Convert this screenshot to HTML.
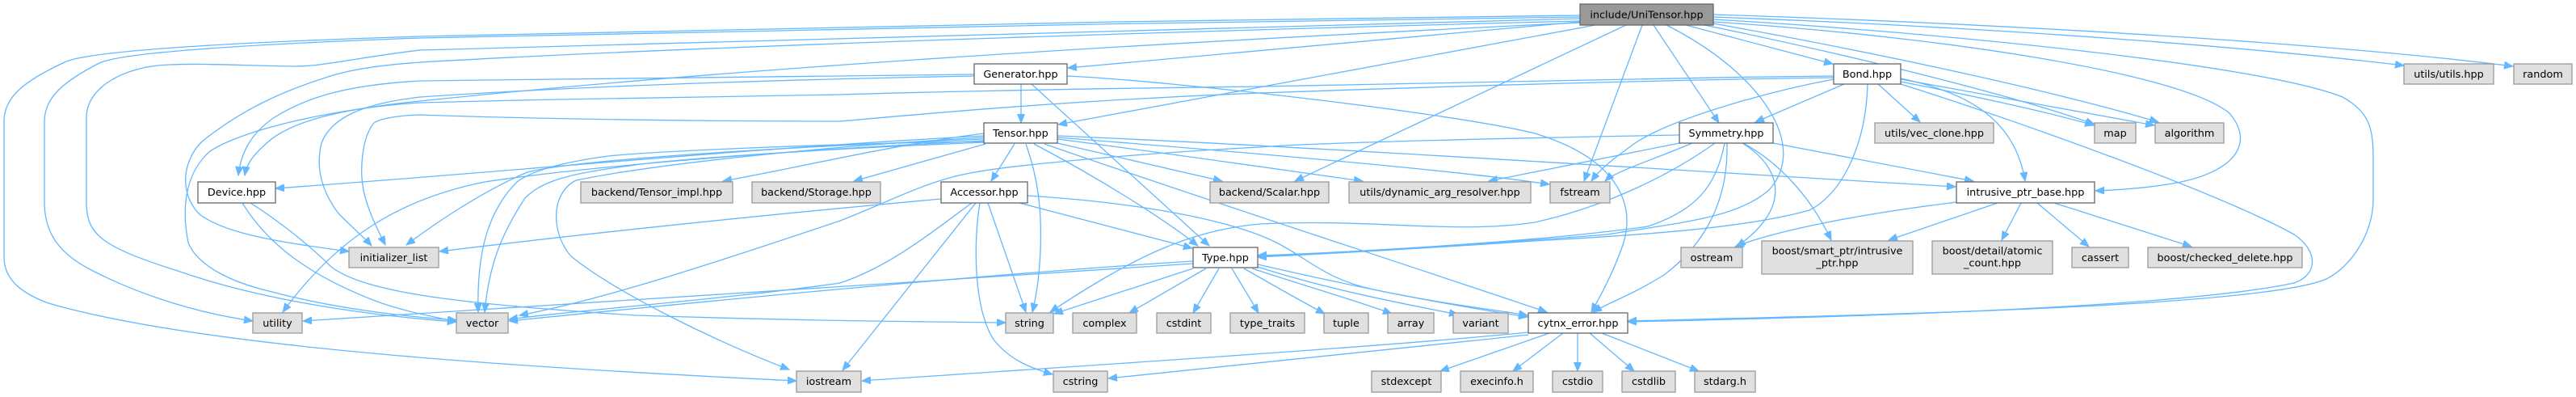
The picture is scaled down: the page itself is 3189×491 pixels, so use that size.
<!DOCTYPE html>
<html><head><meta charset="utf-8">
<style>
html,body{margin:0;padding:0;background:#fff;}
svg{display:block;}
text{font-family:"DejaVu Sans","Liberation Sans",sans-serif;font-size:12.8px;fill:#000;text-anchor:middle;}
.e{fill:none;stroke:#63b8ff;stroke-width:1.3;marker-end:url(#ah);}
.g{fill:#e0e0e0;stroke:#999999;stroke-width:1.3;}
.w{fill:#ffffff;stroke:#666666;stroke-width:1.3;}
.r{fill:#999999;stroke:#666666;stroke-width:1.3;}
</style></head>
<body>
<svg width="3189" height="491" viewBox="0 0 3189 491" xmlns="http://www.w3.org/2000/svg">
<defs>
<marker id="ah" markerUnits="userSpaceOnUse" markerWidth="13" markerHeight="11" refX="11" refY="4.5" orient="auto">
<path d="M0,0 L11,4.5 L0,9 z" fill="#63b8ff" stroke="#63b8ff" stroke-width="1"/>
</marker>
</defs>

<!-- UniTensor edges -->
<path class="e" d="M1956,19 C1500,24 800,36 520,45 C300,52 110,62 80,77 C30,100 5,120 5,150 L5,318 C5,345 25,362 60,375 C250,430 650,455 986,471"/>
<path class="e" d="M1956,21 C1500,26 800,40 520,47 C300,55 150,65 123,78 C80,100 55,120 55,150 L55,250 C55,290 75,315 115,335 C180,368 250,388 313,397"/>
<path class="e" d="M1956,23 C1600,30 1100,45 520,62 C450,70 400,82 367,82 C320,82 260,78 210,80 C150,82 107,110 107,145 L107,250 C107,290 125,305 220,335 C320,370 450,390 565,398"/>
<path class="e" d="M1956,26 C1600,35 900,55 520,77 C450,82 420,90 400,97 C350,113 300,135 250,175 C225,200 222,240 247,265 C280,290 350,300 432,311"/>
<path class="e" d="M1956,28 C1600,45 1000,75 520,125 C420,135 360,150 330,177 C310,195 305,205 303,217"/>
<path class="e" d="M1956,27 L1322,84"/>
<path class="e" d="M1975,31 L1310,154"/>
<path class="e" d="M2013,31 L1603,224"/>
<path class="e" d="M2033,31 L1961,224"/>
<path class="e" d="M2047,31 L2128,152"/>
<path class="e" d="M2063,31 C2180,90 2240,180 2190,235 C2150,270 2080,275 1990,290 C1800,305 1600,315 1557,317"/>
<path class="e" d="M2087,31 L2269,79"/>
<path class="e" d="M2121,18 C2500,30 2900,55 3111,82"/>
<path class="e" d="M2121,21 C2500,35 2800,60 2976,81"/>
<path class="e" d="M2121,24 C2400,40 2800,80 2900,120 C2935,140 2938,160 2938,200 L2938,245 C2938,290 2910,330 2880,345 C2800,380 2300,390 2015,397"/>
<path class="e" d="M2121,27 C2400,45 2700,90 2760,140 C2790,175 2770,210 2700,225 C2660,233 2620,235 2594,236"/>
<path class="e" d="M2110,31 C2300,70 2500,120 2593,154"/>
<path class="e" d="M2121,29 C2350,70 2550,115 2672,151"/>

<!-- Generator edges -->
<path class="e" d="M1264,104 L1264,152"/>
<path class="e" d="M1277,104 L1497,304"/>
<path class="e" d="M1321,94 C1450,100 1800,140 1900,165 C2000,195 2025,250 2010,300 C2000,330 1985,360 1970,386"/>
<path class="e" d="M1206,92 C900,95 700,98 520,100 C430,105 380,120 340,145 C310,165 298,190 295,217"/>
<path class="e" d="M1206,94 C900,100 700,108 520,120 C450,128 410,145 398,177 C390,210 400,240 420,265 C440,285 452,295 460,304"/>

<!-- Bond edges -->
<path class="e" d="M2283,104 L2173,151"/>
<path class="e" d="M2325,104 L2377,151"/>
<path class="e" d="M2353,97 C2440,115 2495,150 2507,224"/>
<path class="e" d="M2353,101 C2450,120 2540,140 2592,155"/>
<path class="e" d="M2353,98 C2450,115 2580,140 2667,155"/>
<path class="e" d="M2353,104 C2500,150 2750,240 2840,290 C2870,310 2870,340 2840,350 C2700,380 2300,392 2015,398"/>
<path class="e" d="M2270,98 C2180,115 2060,150 2020,180 C1995,198 1980,210 1970,224"/>
<path class="e" d="M2312,104 C2310,180 2280,240 2240,260 C2150,285 2000,292 1900,298 C1750,308 1620,315 1557,318"/>
<path class="e" d="M2270,94 C2000,97 1700,104 1560,107 C1300,110 1100,115 1040,117 C900,119 700,122 520,127 C420,133 300,160 260,187 C228,215 225,260 233,300 C245,330 290,350 333,360 C400,378 480,390 565,396"/>
<path class="e" d="M2270,96 C2000,100 1700,110 1560,115 C1300,125 1100,145 1040,150 C800,150 600,145 520,142 C490,143 470,147 463,152 C448,170 445,210 450,235 C455,260 468,285 477,303"/>

<!-- Tensor edges -->
<path class="e" d="M1256,178 L1227,224"/>
<path class="e" d="M1270,178 C1285,220 1290,260 1288,310 C1286,350 1282,370 1278,386"/>
<path class="e" d="M1280,178 C1360,220 1440,270 1483,304"/>
<path class="e" d="M1293,178 C1500,250 1750,330 1915,386"/>
<path class="e" d="M1309,177 L1513,224"/>
<path class="e" d="M1309,172 C1450,190 1600,212 1687,224"/>
<path class="e" d="M1309,170 C1500,185 1800,210 1918,228"/>
<path class="e" d="M1309,168 C1600,180 2100,212 2421,231"/>
<path class="e" d="M1218,165 C1100,180 1000,205 895,224"/>
<path class="e" d="M1220,178 L1057,224"/>
<path class="e" d="M1218,170 C1000,182 800,205 713,223 C680,240 683,290 707,317 C760,360 880,420 977,457"/>
<path class="e" d="M1218,168 C900,185 600,215 341,233"/>
<path class="e" d="M1218,172 C900,185 700,200 653,213 C600,235 540,275 503,303"/>
<path class="e" d="M1218,174 C900,190 700,210 600,225 C500,245 420,290 350,386"/>
<path class="e" d="M1218,175 C1000,178 800,188 753,193 C700,200 660,210 640,225 C605,260 590,310 592,386"/>
<path class="e" d="M1218,176 C1000,185 820,198 780,205 C700,215 670,225 650,245 C620,290 605,330 600,386"/>

<!-- Accessor edges -->
<path class="e" d="M1165,246 C900,270 700,292 544,311"/>
<path class="e" d="M1203,251 C1150,290 1100,330 1040,350 C900,370 700,385 630,395"/>
<path class="e" d="M1208,251 L1043,458"/>
<path class="e" d="M1213,251 C1205,300 1205,380 1230,420 C1250,445 1275,455 1303,463"/>
<path class="e" d="M1223,251 L1270,386"/>
<path class="e" d="M1262,251 L1476,307"/>
<path class="e" d="M1272,242 C1400,250 1520,270 1580,300 C1620,320 1640,345 1700,358 C1780,375 1850,383 1891,390"/>

<!-- Type edges -->
<path class="e" d="M1477,332 L1305,388"/>
<path class="e" d="M1493,332 L1398,387"/>
<path class="e" d="M1509,332 L1477,387"/>
<path class="e" d="M1525,332 L1558,387"/>
<path class="e" d="M1540,332 C1580,355 1610,372 1640,388"/>
<path class="e" d="M1550,332 C1620,355 1680,372 1723,388"/>
<path class="e" d="M1557,330 C1650,360 1750,378 1805,389"/>
<path class="e" d="M1557,327 C1700,360 1800,378 1891,392"/>
<path class="e" d="M1477,323 C1200,340 800,380 630,397"/>
<path class="e" d="M1477,326 C1100,350 600,385 375,397"/>

<!-- Symmetry edges -->
<path class="e" d="M2079,177 L1843,224"/>
<path class="e" d="M2095,177 C2040,200 2000,212 1987,224"/>
<path class="e" d="M2079,167 C1800,172 1600,178 1560,182 C1400,190 1250,205 1207,213 C1150,222 1100,250 1040,273 C900,320 750,370 643,390"/>
<path class="e" d="M2123,177 C2070,215 1990,255 1900,275 C1800,290 1700,270 1560,277 C1470,285 1400,320 1300,386"/>
<path class="e" d="M2135,177 C2125,230 2100,260 2040,280 C1900,300 1650,313 1557,316"/>
<path class="e" d="M2138,177 C2140,260 2100,310 2060,340 C2020,365 1990,375 1972,386"/>
<path class="e" d="M2157,177 C2210,210 2215,260 2150,305"/>
<path class="e" d="M2158,177 C2200,200 2240,240 2267,297"/>
<path class="e" d="M2195,177 L2443,224"/>

<!-- intrusive_ptr_base edges -->
<path class="e" d="M2422,250 C2300,265 2200,285 2148,305"/>
<path class="e" d="M2473,251 L2338,297"/>
<path class="e" d="M2502,251 L2478,297"/>
<path class="e" d="M2522,251 L2586,305"/>
<path class="e" d="M2543,251 L2713,305"/>

<!-- Device edges -->
<path class="e" d="M300,251 C330,300 380,340 467,373 C500,385 530,390 565,398"/>
<path class="e" d="M310,251 C340,270 380,300 410,330 C450,360 550,375 787,390 C1000,397 1150,398 1245,399"/>

<!-- cytnx_error edges -->
<path class="e" d="M1918,412 L1783,459"/>
<path class="e" d="M1935,412 L1873,459"/>
<path class="e" d="M1953,412 L1953,459"/>
<path class="e" d="M1968,412 L2023,459"/>
<path class="e" d="M1983,412 L2103,459"/>
<path class="e" d="M1892,411 C1700,430 1300,455 1067,471"/>
<path class="e" d="M1892,414 C1700,435 1500,455 1372,468"/>

<!-- Nodes -->
<rect class="r" x="1956" y="5" width="165" height="26"/><text x="2038.5" y="22.5">include/UniTensor.hpp</text>
<rect class="w" x="1206" y="79" width="115" height="25"/><text x="1263.5" y="96">Generator.hpp</text>
<rect class="w" x="2270" y="79" width="83" height="25"/><text x="2311.5" y="96">Bond.hpp</text>
<rect class="g" x="2976" y="79" width="111" height="25"/><text x="3031.5" y="96">utils/utils.hpp</text>
<rect class="g" x="3112" y="79" width="72" height="25"/><text x="3148" y="96">random</text>
<rect class="w" x="1218" y="152" width="91" height="25"/><text x="1263.5" y="169">Tensor.hpp</text>
<rect class="w" x="2079" y="152" width="116" height="25"/><text x="2137" y="169">Symmetry.hpp</text>
<rect class="g" x="2321" y="152" width="147" height="25"/><text x="2394.5" y="169">utils/vec_clone.hpp</text>
<rect class="g" x="2593" y="152" width="51" height="25"/><text x="2618.5" y="169">map</text>
<rect class="g" x="2668" y="152" width="85" height="25"/><text x="2710.5" y="169">algorithm</text>
<rect class="w" x="245" y="225" width="96" height="26"/><text x="293" y="242">Device.hpp</text>
<rect class="g" x="719" y="225" width="188" height="26"/><text x="813" y="242">backend/Tensor_impl.hpp</text>
<rect class="g" x="931" y="225" width="159" height="26"/><text x="1010.5" y="242">backend/Storage.hpp</text>
<rect class="w" x="1165" y="225" width="107" height="26"/><text x="1218.5" y="242">Accessor.hpp</text>
<rect class="g" x="1498" y="225" width="147" height="26"/><text x="1571.5" y="242">backend/Scalar.hpp</text>
<rect class="g" x="1670" y="225" width="225" height="26"/><text x="1782.5" y="242">utils/dynamic_arg_resolver.hpp</text>
<rect class="g" x="1919" y="225" width="74" height="26"/><text x="1956" y="242">fstream</text>
<rect class="w" x="2422" y="225" width="171" height="26"/><text x="2507.5" y="242">intrusive_ptr_base.hpp</text>
<rect class="g" x="432" y="306" width="111" height="25"/><text x="487.5" y="323">initializer_list</text>
<rect class="w" x="1477" y="306" width="80" height="25"/><text x="1517" y="323">Type.hpp</text>
<rect class="g" x="2081" y="306" width="76" height="25"/><text x="2119" y="323">ostream</text>
<rect class="g" x="2181" y="298" width="187" height="41"/><text x="2274.5" y="314.5">boost/smart_ptr/intrusive</text><text x="2274.5" y="329.5">_ptr.hpp</text>
<rect class="g" x="2392" y="298" width="149" height="41"/><text x="2466.5" y="314.5">boost/detail/atomic</text><text x="2466.5" y="329.5">_count.hpp</text>
<rect class="g" x="2565" y="306" width="70" height="25"/><text x="2600" y="323">cassert</text>
<rect class="g" x="2659" y="306" width="191" height="25"/><text x="2754.5" y="323">boost/checked_delete.hpp</text>
<rect class="g" x="313" y="387" width="61" height="25"/><text x="343.5" y="404">utility</text>
<rect class="g" x="565" y="387" width="64" height="25"/><text x="597" y="404">vector</text>
<rect class="g" x="1245" y="387" width="59" height="25"/><text x="1274.5" y="404">string</text>
<rect class="g" x="1328" y="387" width="79" height="25"/><text x="1367.5" y="404">complex</text>
<rect class="g" x="1432" y="387" width="67" height="25"/><text x="1465.5" y="404">cstdint</text>
<rect class="g" x="1523" y="387" width="92" height="25"/><text x="1569" y="404">type_traits</text>
<rect class="g" x="1639" y="387" width="55" height="25"/><text x="1666.5" y="404">tuple</text>
<rect class="g" x="1718" y="387" width="57" height="25"/><text x="1746.5" y="404">array</text>
<rect class="g" x="1799" y="387" width="68" height="25"/><text x="1833" y="404">variant</text>
<rect class="w" x="1892" y="387" width="123" height="25"/><text x="1953.5" y="404">cytnx_error.hpp</text>
<rect class="g" x="986" y="459" width="80" height="26"/><text x="1026" y="476">iostream</text>
<rect class="g" x="1304" y="459" width="67" height="26"/><text x="1337.5" y="476">cstring</text>
<rect class="g" x="1698" y="459" width="86" height="26"/><text x="1741" y="476">stdexcept</text>
<rect class="g" x="1808" y="459" width="90" height="26"/><text x="1853" y="476">execinfo.h</text>
<rect class="g" x="1922" y="459" width="62" height="26"/><text x="1953" y="476">cstdio</text>
<rect class="g" x="2008" y="459" width="66" height="26"/><text x="2041" y="476">cstdlib</text>
<rect class="g" x="2098" y="459" width="75" height="26"/><text x="2135.5" y="476">stdarg.h</text>
</svg>
</body></html>
